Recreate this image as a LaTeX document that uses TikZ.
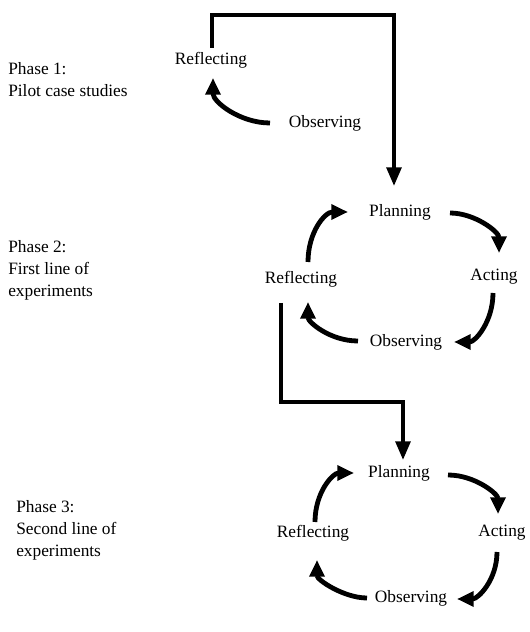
\documentclass[tikz,border=0pt]{standalone}
\usepackage{fontspec}
\setmainfont{Liberation Serif}
\usetikzlibrary{arrows.meta,calc}
\begin{document}
\begin{tikzpicture}[x=0.75pt,y=0.75pt,
  lbl/.style={inner sep=0pt,font=\fontsize{13}{16.5}\selectfont},
  phase/.style={lbl,anchor=west,align=left},
  cyc/.style={line width=3.6pt,-{Triangle[length=12.5pt,width=11pt]}},
  link/.style={line width=2.9pt,-{Triangle[length=14pt,width=11pt]}}]
\fill[white] (0,0) rectangle (529,632);
\useasboundingbox (0,0) rectangle (529,632);
% phase labels
\node[phase] (ph1) at (8,552) {Phase 1:\\Pilot case studies};
\node[phase] (ph2) at (8,362) {Phase 2:\\First line of\\experiments};
\node[phase] (ph3) at (16,102) {Phase 3:\\Second line of\\experiments};
% phase 1
\node[lbl] (r1) at (211,572) {Reflecting};
\node[lbl] (o1) at (325,509) {Observing};
% phase 2
\node[lbl] (p2) at (400,420) {Planning};
\node[lbl] (a2) at (494,355) {Acting};
\node[lbl] (r2) at (301,353) {Reflecting};
\node[lbl] (o2) at (406,290) {Observing};
% phase 3
\node[lbl] (p3) at (399,159) {Planning};
\node[lbl] (a3) at (502,99) {Acting};
\node[lbl] (r3) at (313,99) {Reflecting};
\node[lbl] (o3) at (411,34) {Observing};
% phase 1 arrows
\draw[cyc] ($(o1)+(-55,0)$) .. controls +(-30,0) and +(0,-24) .. ($(r1)+(2,-18)$);
\draw[link] ($(r1)+(1,12)$) -- ++(0,33) -| ($(p2)+(-6,26)$);
% phase 2 arrows
\draw[cyc] ($(r2)+(7,17)$) .. controls +(0,30) and +(-23,0) .. ($(p2)+(-52,0)$);
\draw[cyc] ($(p2)+(50,-1)$) .. controls +(25,0) and +(0,21) .. ($(a2)+(5,24)$);
\draw[cyc] ($(a2)+(-1,-16)$) .. controls +(0,-29) and +(21,0) .. ($(o2)+(48,0)$);
\draw[cyc] ($(o2)+(-48,1)$) .. controls +(-28,0) and +(0,-20) .. ($(r2)+(7,-23)$);
\draw[link] ($(r2)+(-20,-24)$) -- ++(0,-99) -| ($(p3)+(4,13)$);
% phase 3 arrows
\draw[cyc] ($(r3)+(2,11)$) .. controls +(0,30) and +(-21,0) .. ($(p3)+(-45,0)$);
\draw[cyc] ($(p3)+(49,-2)$) .. controls +(27,0) and +(0,20) .. ($(a3)+(-4,19)$);
\draw[cyc] ($(a3)+(-5,-19)$) .. controls +(0,-28) and +(21,0) .. ($(o3)+(46,-1)$);
\draw[cyc] ($(o3)+(-44,0)$) .. controls +(-23,0) and +(0,-20) .. ($(r3)+(4,-27)$);
\end{tikzpicture}
\end{document}
